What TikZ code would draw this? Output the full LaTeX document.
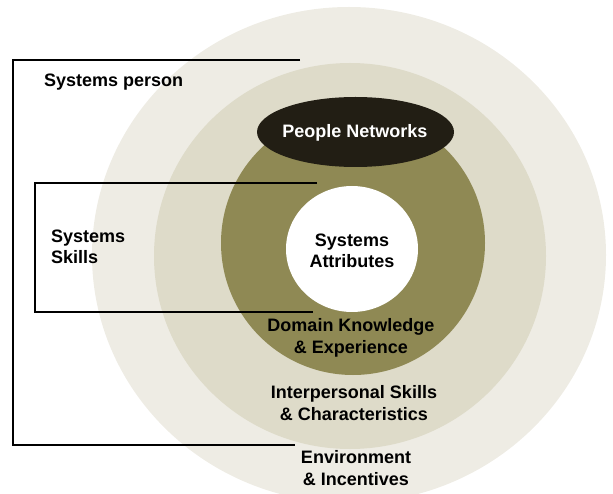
\documentclass[tikz,border=0pt]{standalone}
\usepackage{fontspec}
\setmainfont{Liberation Sans}
\usetikzlibrary{shapes.geometric}
\definecolor{outerc}{RGB}{238,236,228}
\definecolor{midc}{RGB}{222,219,201}
\definecolor{olivec}{RGB}{143,137,84}
\definecolor{darkc}{RGB}{34,30,20}
\begin{document}
\begin{tikzpicture}[x=1pt,y=-1pt,
  ring/.style={ellipse, inner sep=0pt, draw=none},
  lbl/.style={font=\fontsize{18}{21.5}\selectfont\bfseries, inner sep=0pt, align=center},
  bracket/.style={draw=black, line width=1.7pt}]
\useasboundingbox (0,0) rectangle (613,494);
% rings
\node[ring, fill=outerc, minimum width=514pt, minimum height=496pt] (env) at (349,255) {};
\node[ring, fill=midc, minimum width=392pt, minimum height=386pt] (inter) at (350,256) {};
\node[ring, fill=olivec, minimum width=264pt, minimum height=264pt] (domain) at (353,243) {};
\node[ring, fill=white, minimum width=132pt, minimum height=126pt] (attr) at (352,249) {};
\node[ring, fill=darkc, minimum width=197pt, minimum height=70pt] (people) at (355.5,132) {};
% brackets
\coordinate (pTR) at (300,60);
\coordinate (pTL) at (13,60);
\coordinate (pBL) at (13,445);
\coordinate (pBR) at (295,445);
\coordinate (sTR) at (317,183);
\coordinate (sTL) at (35,183);
\coordinate (sBL) at (35,312);
\coordinate (sBR) at (313,312);
\draw[bracket] (pTR) -- (pTL) -- (pBL) -- (pBR);
\draw[bracket] (sTR) -- (sTL) -- (sBL) -- (sBR);
% labels (base anchor = baseline of last line)
\node[lbl, anchor=base west] (tperson) at (44,87) {Systems person};
\node[lbl, anchor=base, text=white] (tpeople) at (355,138) {People Networks};
\node[lbl, anchor=base] (tattr) at (352,268) {Systems\\Attributes};
\node[lbl, anchor=base west, align=left] (tskills) at (51,264) {Systems\\Skills};
\node[lbl, anchor=base] (tdomain) at (351,353) {Domain Knowledge\\\& Experience};
\node[lbl, anchor=base] (tinter) at (354,420) {Interpersonal Skills\\\& Characteristics};
\node[lbl, anchor=base] (tenv) at (356,485) {Environment\\\& Incentives};
\end{tikzpicture}
\end{document}
